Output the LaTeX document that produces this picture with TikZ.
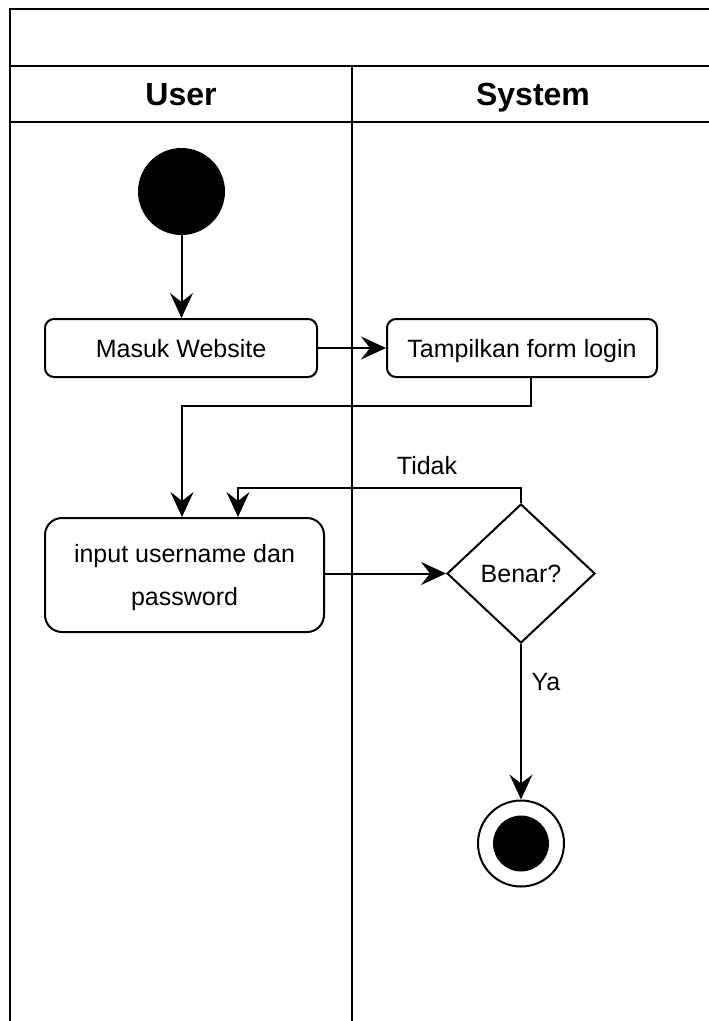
\documentclass[tikz,border=0pt]{standalone}
\usepackage{fontspec}
\setmainfont{Liberation Sans}
\usetikzlibrary{arrows.meta,shapes.geometric}
\begin{document}
\begin{tikzpicture}[x=1pt,y=-1pt,
  pool/.style={line width=2.2pt,line cap=rect},
  hdr/.style={font=\bfseries\fontsize{32}{38}\selectfont,anchor=base,inner sep=0pt},
  act/.style={draw,line width=2pt,rounded corners=9pt,inner sep=0pt,
    font=\fontsize{25}{42.5}\selectfont,align=center,text height=18pt,text depth=0pt},
  decision/.style={draw,diamond,line width=2pt,inner sep=0pt,
    font=\fontsize{25}{30}\selectfont,text height=18pt,text depth=0pt},
  lbl/.style={font=\fontsize{25}{30}\selectfont,anchor=base,inner sep=0pt},
  flow/.style={line width=2pt,-{Stealth[length=25pt,width=23pt,inset=9pt]}}]
\useasboundingbox (0,0) rectangle (709,1021);

% swimlane pool
\draw[pool] (709,9) -- (10,9) -- (10,1021);
\draw[pool] (10,66) -- (709,66);
\draw[pool] (10,122) -- (709,122);
\draw[pool] (352,66) -- (352,1021);
\node[hdr] (huser) at (181,105) {User};
\node[hdr] (hsys) at (533,105) {System};

% activities
\node[circle,fill,minimum size=87pt,inner sep=0pt] (start) at (181.5,191.5) {};
\node[act,minimum width=272pt,minimum height=58pt] (masuk) at (181,348) {Masuk Website};
\node[act,minimum width=270pt,minimum height=58pt] (tamp) at (522,348) {Tampilkan form login};
\node[act,rounded corners=17pt,text height=,
  minimum width=279pt,minimum height=114pt] (inp) at (184.5,575)
  {input username dan\\password};
\node[decision,minimum width=148pt,minimum height=139pt] (benar) at (521,573.5) {Benar?};
\node[circle,draw,line width=2pt,minimum size=86pt,inner sep=0pt] (endring) at (521,843.5) {};
\node[circle,fill,minimum size=56pt,inner sep=0pt] (endcore) at (endring.center) {};

% control flow
\draw[flow] (start.south) -- (start.south |- masuk.north);
\draw[flow] (masuk.east) -- (tamp.west);
\draw[flow] ([xshift=9pt]tamp.south) -- ++(0,28) -| ([xshift=-2.5pt]inp.north);
\draw[flow] (inp.east |- benar.west) -- (benar.west);
\draw[flow] (benar.north) -- ++(0,-15) -| ([xshift=53.5pt]inp.north);
\draw[flow] (benar.south) -- (endring.north);

% guard labels
\node[lbl] (tidak) at (427,474) {Tidak};
\node[lbl] (ya) at (546,690) {Ya};
\end{tikzpicture}
\end{document}
